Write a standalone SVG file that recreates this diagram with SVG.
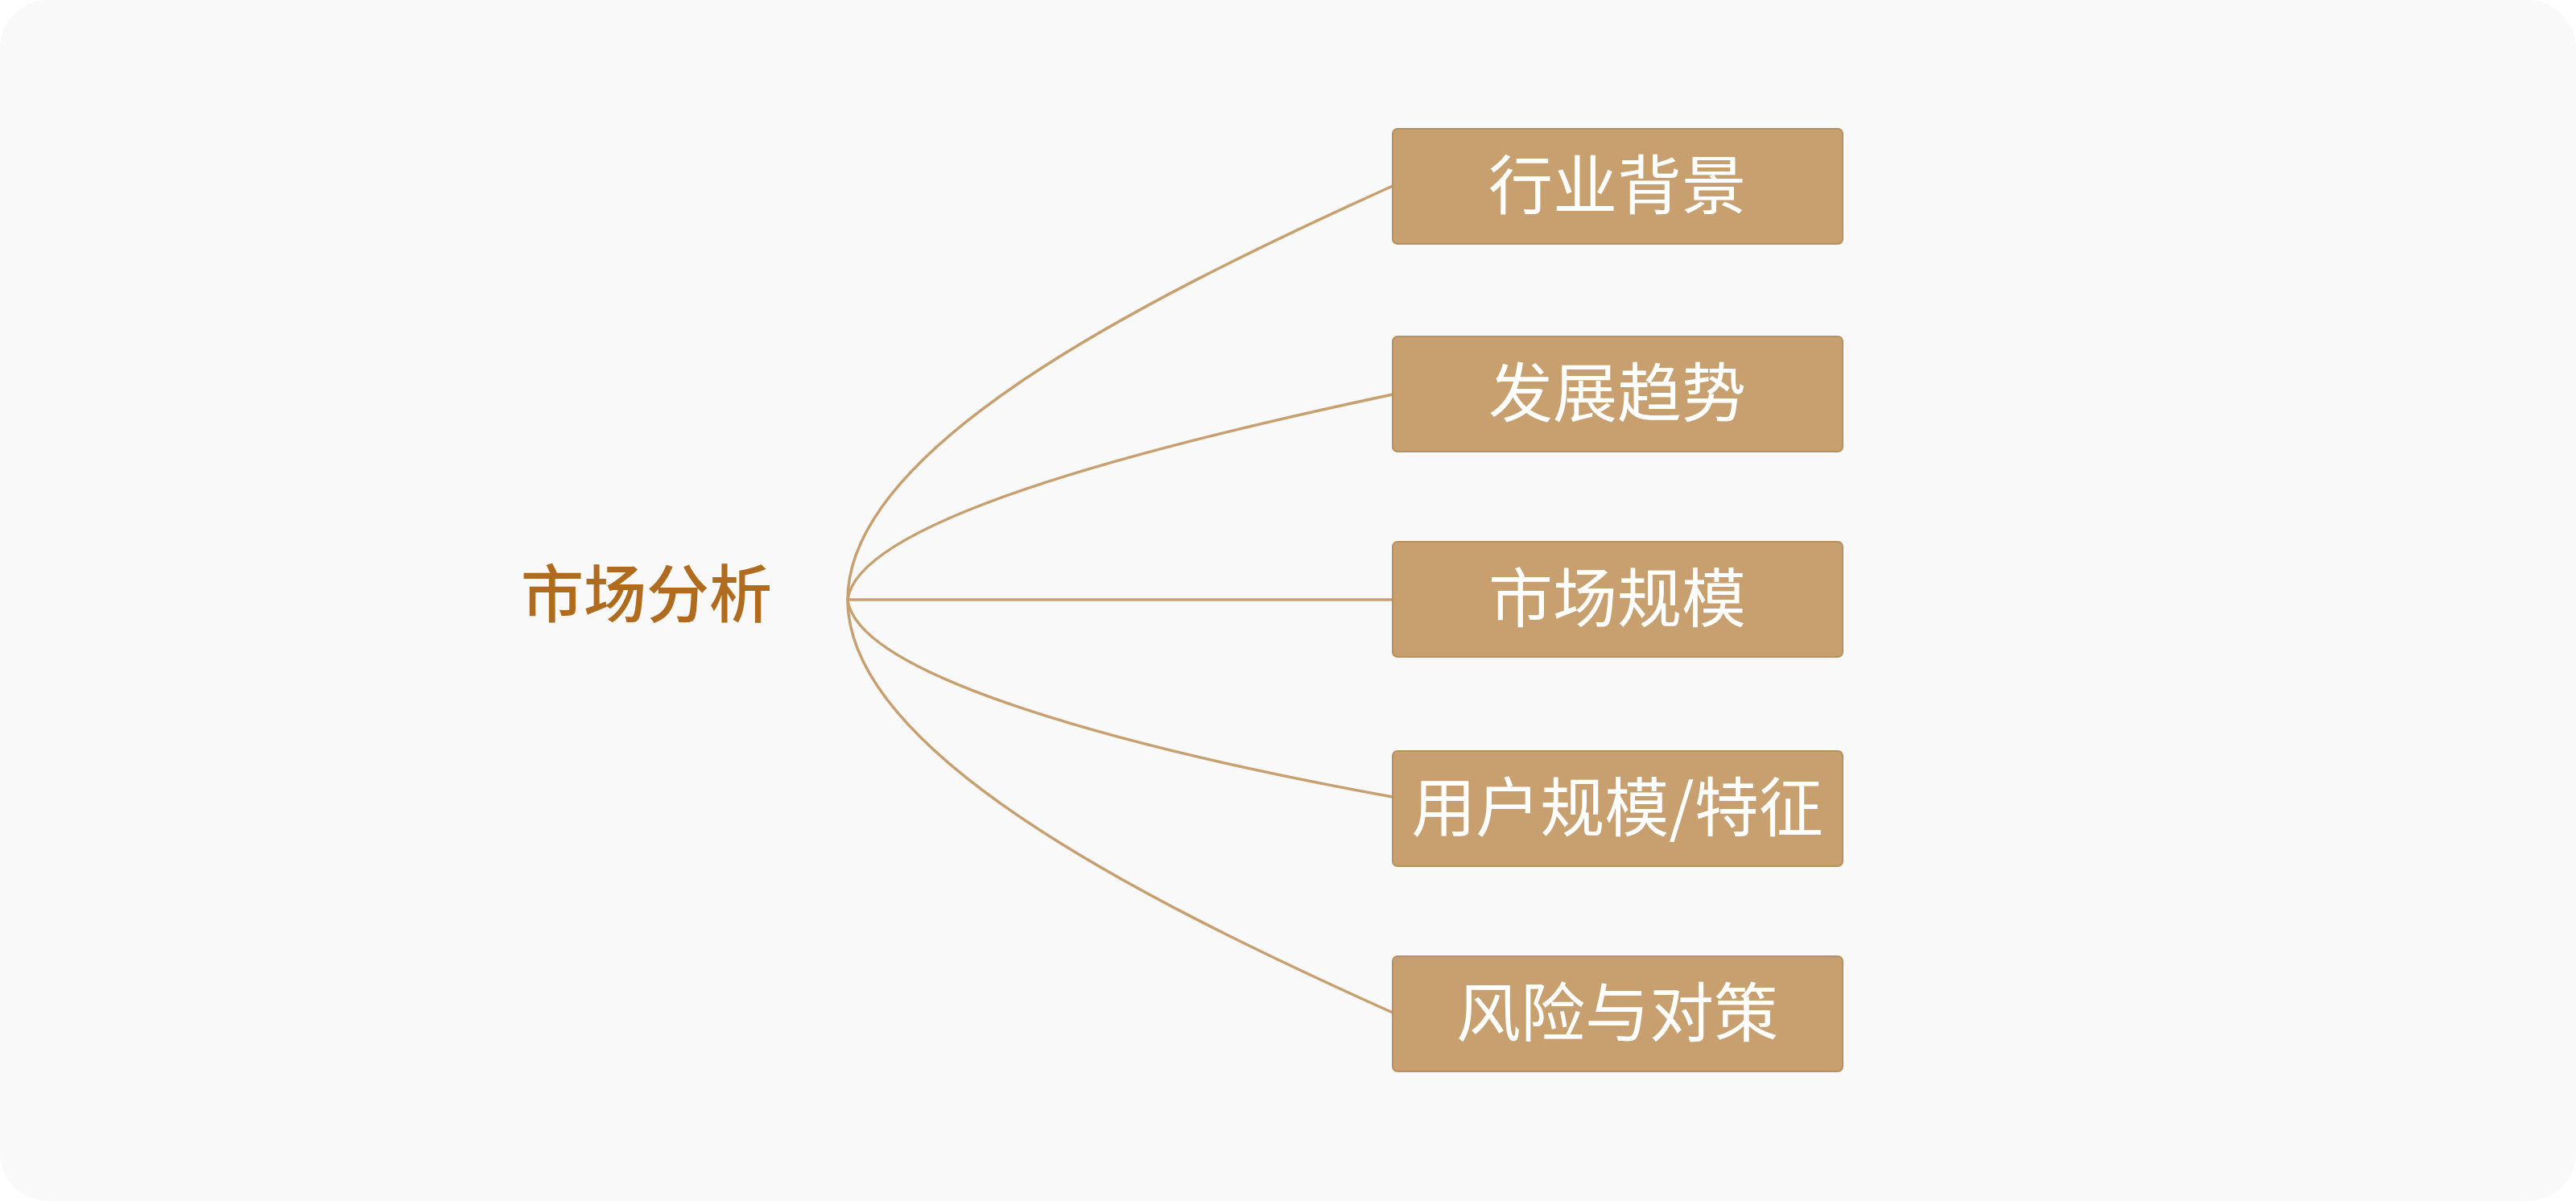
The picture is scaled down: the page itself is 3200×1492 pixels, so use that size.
<svg xmlns="http://www.w3.org/2000/svg" width="3200" height="1492" viewBox="0 0 3200 1492">
<style>
.box{fill:#C89F6E;stroke:#B8905F;stroke-width:2}
.lbl{font-family:"Noto Sans CJK SC","Liberation Sans",sans-serif;font-size:80px;fill:#FFFFFF;text-anchor:middle}
.root{font-family:"Noto Sans CJK SC","Liberation Sans",sans-serif;font-size:78px;font-weight:500;fill:#B06B1E;text-anchor:middle}
.edge{fill:none;stroke:#C8A070;stroke-width:3.5}
</style>
<rect x="0" y="0" width="3200" height="1492" rx="60" fill="#F9F9F9"/>
<g id="connectors">
<path class="edge" d="M1053,745 C1053,560 1400,380 1730,231"/>
<path class="edge" d="M1053,745 C1065,650 1400,560 1730,490"/>
<path class="edge" d="M1053,745 L1730,745"/>
<path class="edge" d="M1053,745 C1065,840 1400,930 1730,990"/>
<path class="edge" d="M1053,745 C1053,930 1400,1110 1730,1258"/>
</g>
<g id="root"><text class="root" x="803" y="767">市场分析</text></g>
<g id="n1"><rect class="box" x="1730" y="160" width="559" height="143" rx="6"/><text class="lbl" x="2009" y="259">行业背景</text></g>
<g id="n2"><rect class="box" x="1730" y="418" width="559" height="143" rx="6"/><text class="lbl" x="2009" y="517">发展趋势</text></g>
<g id="n3"><rect class="box" x="1730" y="673" width="559" height="143" rx="6"/><text class="lbl" x="2009" y="772">市场规模</text></g>
<g id="n4"><rect class="box" x="1730" y="933" width="559" height="143" rx="6"/><text class="lbl" x="2009" y="1032">用户规模/特征</text></g>
<g id="n5"><rect class="box" x="1730" y="1188" width="559" height="143" rx="6"/><text class="lbl" x="2009" y="1287">风险与对策</text></g>
</svg>
